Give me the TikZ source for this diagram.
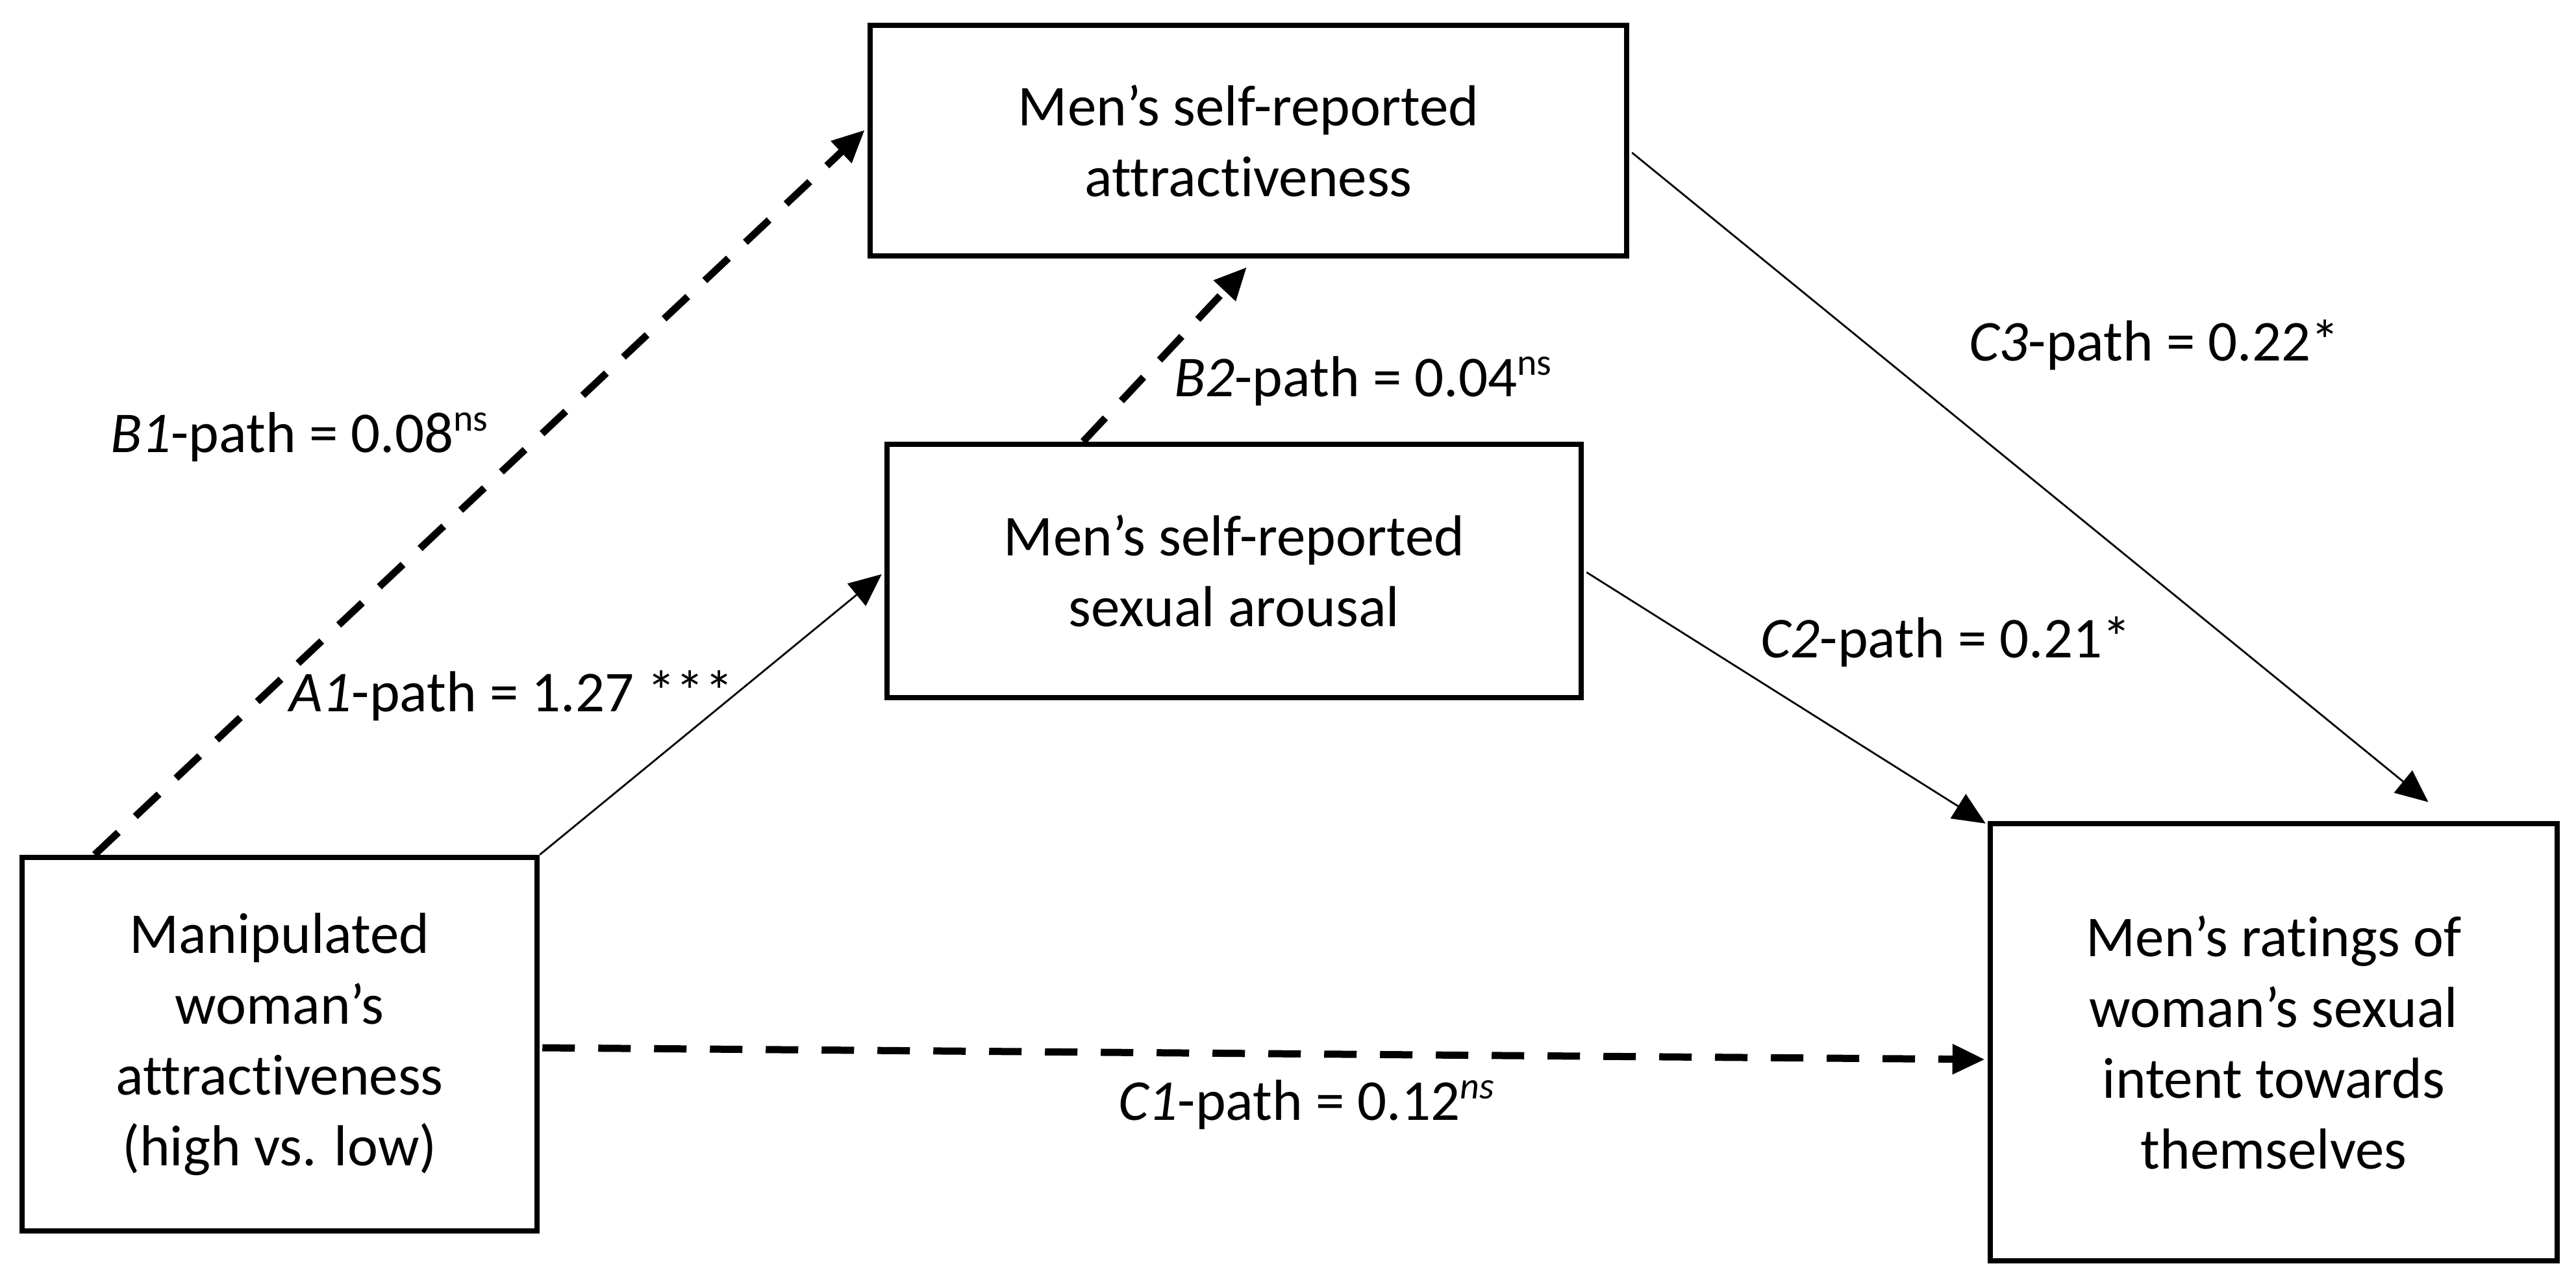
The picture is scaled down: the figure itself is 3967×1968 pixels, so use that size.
\documentclass[tikz,border=0pt]{standalone}
\usepackage{fontspec}
\setmainfont{Carlito}[Ligatures=NoCommon]
\usetikzlibrary{arrows.meta,calc}
\newcommand{\myns}[1]{\raisebox{0.36em}{\fontsize{58}{58}\selectfont #1}}
\begin{document}
\begin{tikzpicture}[x=1pt,y=-1pt,
  box/.style={draw=black, line width=8.5pt, inner sep=0pt, align=center,
    font=\fontsize{89}{109}\selectfont},
  lab/.style={inner sep=0pt, anchor=base west, font=\fontsize{89}{109}\selectfont},
  thinarrow/.style={line width=2.8pt, -{Triangle[length=50pt,width=44pt]}},
  dasharrow/.style={line width=11pt, dash pattern=on 50pt off 36pt,
    -{Triangle[length=50pt,width=44pt]}},
]
\useasboundingbox (0,0) rectangle (3967,1968);

% boxes
\node[box, minimum width=793pt, minimum height=575pt] (manip) at (430.5,1607.5)
  {Manipulated\\woman’s\\attractiveness\\(high vs. low)};
\node[box, minimum width=1165pt, minimum height=355pt] (att) at (1922.5,216.5)
  {Men’s self-reported\\attractiveness};
\node[box, minimum width=1069pt, minimum height=390pt] (arou) at (1900.5,879)
  {Men’s self-reported\\sexual arousal};
\node[box, minimum width=873pt, minimum height=673pt] (intent) at (3501.5,1604.5)
  {Men’s ratings of\\woman’s sexual\\intent towards\\themselves};

% connectors
\draw[dasharrow] ([xshift=116pt]manip.north west) -- ([yshift=16.5pt,xshift=-4pt]att.west);
\draw[thinarrow] (manip.north east) -- ([yshift=-5pt,xshift=-4pt]arou.west);
\draw[dasharrow] ([xshift=-232.5pt]arou.north) -- ([yshift=-13pt,xshift=-2.5pt]att.south);
\draw[thinarrow] ([yshift=-18.5pt,xshift=4pt]att.east) -- ([xshift=238pt,yshift=29pt]intent.north);
\draw[thinarrow] ([yshift=-2pt,xshift=4pt]arou.east) -- ([xshift=-3pt,yshift=-4pt]intent.north west);
\draw[dasharrow] ([yshift=-5.5pt,xshift=4pt]manip.east) -- ([yshift=-26.5pt,xshift=-4pt]intent.west);

% labels
\node[lab] (lb1) at (170,696) {\textit{B1}-path = 0.08\myns{ns}};
\node[lab] (la1) at (445,1095) {\textit{A1}-path = 1.27 ***};
\node[lab] (lb2) at (1808,610) {\textit{B2}-path = 0.04\myns{ns}};
\node[lab] (lc3) at (3032,555) {\textit{C3}-path = 0.22*};
\node[lab] (lc2) at (2711,1012) {\textit{C2}-path = 0.21*};
\node[lab] (lc1) at (1722,1724) {\textit{C1}-path = 0.12\myns{\textit{ns}}};
\end{tikzpicture}
\end{document}
